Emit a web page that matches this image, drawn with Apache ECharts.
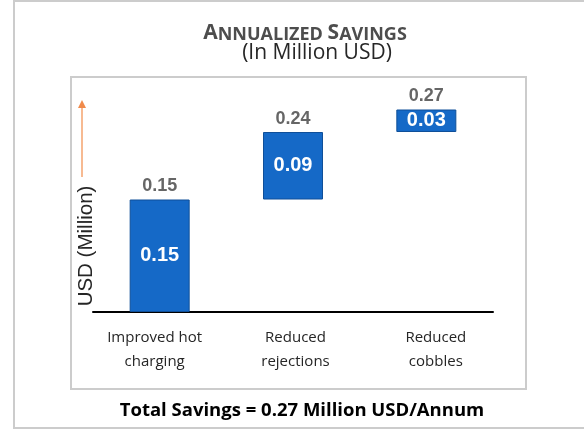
<!DOCTYPE html>
<html lang="en">
<head>
	<meta charset="UTF-8">
	<title>Annualized Savings</title>
	<script src="https://cdn.jsdelivr.net/npm/echarts@6/dist/echarts.min.js"></script>
	<style>
		html, body { margin: 0; padding: 0; background: #fff; }
	</style>
</head>
<body>
	<div id="main" style="width: 584px;height:430px;"></div>
	<script type="text/javascript">
		// categories and values
		var categories = ['Improved hot\ncharging', 'Reduced\nrejections', 'Reduced\ncobbles'];
		var baseValues = [0, 0.15, 0.24];      // invisible part of the waterfall
		var savings = [0.15, 0.09, 0.03];      // blue bars
		var totals = [0.15, 0.24, 0.27];       // running total shown above each bar

		var myChart = echarts.init(document.getElementById('main'));

		var calibri = '"Open Sans", "Noto Sans", sans-serif';
		var arial = '"Liberation Sans", Arial, sans-serif';

		// the category texts are not quite centred under the bars in the original
		var catStyle = function (padL, padR) {
			return { fontFamily: calibri, fontSize: 15, lineHeight: 24, color: '#262626', padding: [0, padR, 0, padL] };
		};

		option = {
			animation: false,
			backgroundColor: '#fff',
			grid: { left: 93, right: 91, top: 87, bottom: 118 },
			xAxis: {
				type: 'category',
				data: categories,
				axisLine: { lineStyle: { color: '#000', width: 2 } },
				axisTick: { show: false },
				axisLabel: {
					margin: 14,
					formatter: function (value, idx) {
						return value.split('\n').map(function (s) {
							return '{c' + idx + '|' + s + '}';
						}).join('\n');
					},
					rich: {
						c0: catStyle(0, 10),
						c1: catStyle(5, 0),
						c2: catStyle(19, 0)
					}
				}
			},
			yAxis: {
				type: 'value',
				min: 0,
				max: 0.3,
				show: false
			},
			series: [
				{
					name: 'base',
					type: 'bar',
					stack: 'w',
					barWidth: 60,
					itemStyle: { color: 'transparent' },
					silent: true,
					data: baseValues
				},
				{
					name: 'savings',
					type: 'bar',
					stack: 'w',
					barWidth: 60,
					itemStyle: { color: '#1569c7', borderColor: '#0f4f99', borderWidth: 1 },
					label: {
						show: true,
						position: 'inside',
						color: '#fff',
						fontFamily: arial,
						fontWeight: 'bold',
						fontSize: 20
					},
					data: savings
				},
				{
					name: 'total',
					type: 'scatter',
					symbolSize: 0,
					label: {
						show: true,
						position: 'top',
						distance: 4,
						color: '#404040',
						fontFamily: arial,
						fontWeight: 'bold',
						fontSize: 18
					},
					data: totals
				}
			],
			graphic: [
				{
					type: 'rect', silent: true, z: -1,
					shape: { x: 14, y: 1, width: 620, height: 427 },
					style: { fill: 'none', stroke: '#cccccc', lineWidth: 2 }
				},
				{
					type: 'rect', silent: true, z: -1,
					shape: { x: 71, y: 77, width: 455, height: 312 },
					style: { fill: 'none', stroke: '#cccccc', lineWidth: 2 }
				},
				{
					type: 'text', x: 305, y: 31,
					style: {
						text: '{b|A}{s|NNUALIZED }{b|S}{s|AVINGS}',
						align: 'center', verticalAlign: 'middle',
						rich: {
							b: { fontFamily: calibri, fontWeight: 'bold', fontSize: 21, lineHeight: 26, verticalAlign: 'bottom', fill: '#4d4d4d' },
							s: { fontFamily: calibri, fontWeight: 'bold', fontSize: 18, lineHeight: 26, verticalAlign: 'bottom', fill: '#4d4d4d' }
						}
					}
				},
				{
					type: 'text', x: 317, y: 53,
					style: {
						text: '(In Million USD)',
						align: 'center', verticalAlign: 'middle',
						fontFamily: calibri, fontSize: 21, fill: '#262626'
					}
				},
				{
					type: 'text', x: 86, y: 246, rotation: Math.PI / 2,
					style: {
						text: 'USD (Million)',
						align: 'center', verticalAlign: 'middle',
						fontFamily: arial, fontSize: 20.5, fill: '#262626'
					}
				},
				{
					type: 'line', silent: true,
					shape: { x1: 82, y1: 177, x2: 82, y2: 106 },
					style: { stroke: '#f4a36e', lineWidth: 1.5 }
				},
				{
					type: 'polygon', silent: true,
					shape: { points: [[78, 108], [86, 108], [82, 100]] },
					style: { fill: '#f08a4b' }
				},
				{
					type: 'text', x: 302, y: 411,
					style: {
						text: 'Total Savings = 0.27 Million USD/Annum',
						align: 'center', verticalAlign: 'middle',
						fontFamily: calibri, fontWeight: 'bold', fontSize: 18.5, fill: '#000'
					}
				}
			]
		};
		myChart.setOption(option);
	</script>
</body>
</html>
